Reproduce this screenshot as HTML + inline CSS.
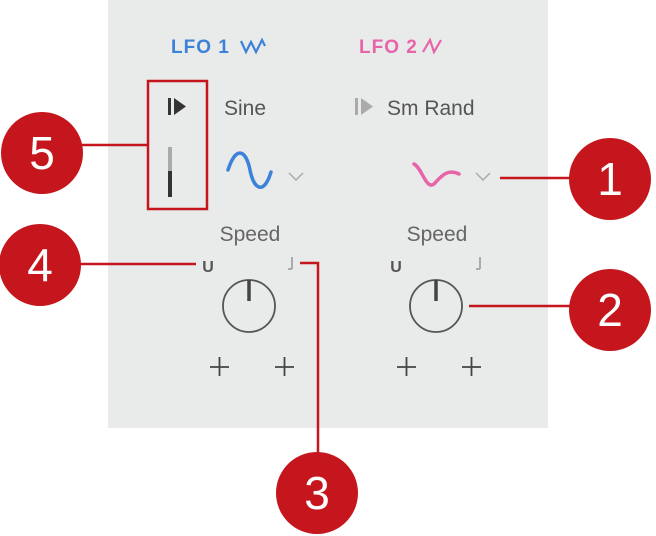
<!DOCTYPE html>
<html><head><style>
body{margin:0;width:656px;height:536px;background:#fff;position:relative;overflow:hidden;font-family:"Liberation Sans",sans-serif}
</style></head><body>
<svg width="656" height="536" style="position:absolute;left:0;top:0">
<rect x="108" y="0" width="440" height="428" fill="#e9eaea"/>
<text x="171" y="53" font-size="19" font-weight="bold" fill="#3d82d9" letter-spacing="1" font-family="Liberation Sans">LFO 1</text>
<path d="M241 41 L246 52 L251 42 L256 52 L262 40 L265 46" stroke="#3d82d9" stroke-width="2.2" fill="none"/>
<text x="359" y="53" font-size="19" font-weight="bold" fill="#e864a8" letter-spacing="1" font-family="Liberation Sans">LFO 2</text>
<path d="M423 52 L430 40 L434 52 L441 40" stroke="#e864a8" stroke-width="2.2" fill="none"/>
<rect x="148" y="81" width="59" height="128" fill="none" stroke="#c4161c" stroke-width="2.5"/>
<rect x="168" y="98" width="3" height="17" fill="#333"/>
<path d="M174 98 L186 106.5 L174 115Z" fill="#333"/>
<rect x="168" y="147" width="4" height="24" fill="#aaa"/>
<rect x="168" y="171" width="4" height="26" fill="#333"/>
<text x="224" y="115" font-size="21" fill="#555" font-family="Liberation Sans">Sine</text>
<rect x="355" y="98" width="3" height="17" fill="#aaa"/>
<path d="M361 98 L373 106.5 L361 115Z" fill="#aaa"/>
<text x="387" y="115" font-size="21" fill="#555" font-family="Liberation Sans">Sm Rand</text>
<path d="M228 170 C236 145 246 150 250 170 C254 190 264 195 271 172" stroke="#3d82d9" stroke-width="3.5" fill="none" stroke-linecap="round"/>
<path d="M289 173 L296 180 L303 173" stroke="#aaa" stroke-width="1.5" fill="none"/>
<path d="M414 164 C422 168 426 190 434 184 C440 178 446 168 459 174" stroke="#e864a8" stroke-width="3.5" fill="none" stroke-linecap="round"/>
<path d="M476 173 L483 180 L490 173" stroke="#aaa" stroke-width="1.5" fill="none"/>
<text x="250" y="241" font-size="21" fill="#666" text-anchor="middle" font-family="Liberation Sans">Speed</text>
<text x="437" y="241" font-size="21" fill="#666" text-anchor="middle" font-family="Liberation Sans">Speed</text>
<text x="208" y="272" font-size="16" font-weight="bold" fill="#555" text-anchor="middle" font-family="Liberation Sans">U</text>
<text x="396" y="272" font-size="16" font-weight="bold" fill="#555" text-anchor="middle" font-family="Liberation Sans">U</text>
<path d="M292 257 V269 M292 269 h-4" stroke="#aaa" stroke-width="2" fill="none"/>
<path d="M480 257 V269 M480 269 h-4" stroke="#aaa" stroke-width="2" fill="none"/>
<circle cx="249" cy="306" r="26" fill="none" stroke="#555" stroke-width="1.8"/>
<line x1="249" y1="280" x2="249" y2="301" stroke="#444" stroke-width="3.5"/>
<circle cx="436" cy="306" r="26" fill="none" stroke="#555" stroke-width="1.8"/>
<line x1="436" y1="280" x2="436" y2="301" stroke="#444" stroke-width="3.5"/>
<g stroke="#444" stroke-width="1.8">
<path d="M210 367 h19 M219.5 357 v19"/><path d="M275 367 h19 M284.5 357 v19"/>
<path d="M397 367 h19 M406.5 357 v19"/><path d="M462 367 h19 M471.5 357 v19"/>
</g>
<g stroke="#c4161c" stroke-width="2.5" fill="none">
<path d="M80 145 H148"/>
<path d="M500 178 H572"/>
<path d="M78 264 H196"/>
<path d="M300 263 H318 V455"/>
<path d="M469 306 H572"/>
</g>
<g fill="#c4161c">
<circle cx="42" cy="153" r="41"/>
<circle cx="610" cy="179" r="41"/>
<circle cx="40" cy="265" r="41"/>
<circle cx="610" cy="310" r="41"/>
<circle cx="317" cy="493" r="41"/>
</g>
<g fill="#fff" font-size="46" text-anchor="middle" font-family="Liberation Sans">
<text x="42" y="169">5</text>
<text x="610" y="195">1</text>
<text x="40" y="281">4</text>
<text x="610" y="326">2</text>
<text x="317" y="509">3</text>
</g>
</svg>
</body></html>
